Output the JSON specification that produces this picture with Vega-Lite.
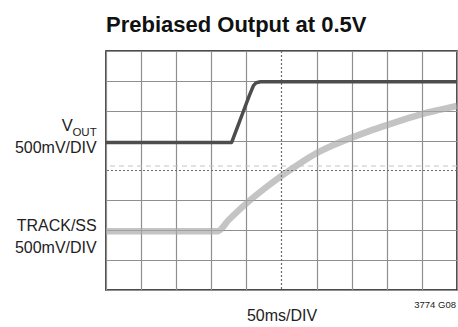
{
  "$schema": "https://vega.github.io/schema/vega-lite/v6.json",
  "width": 351,
  "height": 239,
  "autosize": {"type": "none"},
  "padding": {"left": 106, "top": 51, "right": 1, "bottom": 37},
  "background": "white",
  "title": {
    "text": "Prebiased Output at 0.5V",
    "anchor": "start",
    "frame": "group",
    "font": "Liberation Sans",
    "fontSize": 22,
    "fontWeight": "bold",
    "color": "#111",
    "baseline": "alphabetic",
    "offset": -4
  },
  "config": {
    "view": {"stroke": "#111", "strokeWidth": 1.5},
    "font": "Liberation Sans"
  },
  "resolve": {"axis": {"x": "independent", "y": "independent"}},
  "datasets": {
    "traces": [
      {"t": 0, "v": 4.94, "trace": "VOUT"},
      {"t": 3.58, "v": 4.94, "trace": "VOUT"},
      {"t": 3.75, "v": 5.47, "trace": "VOUT"},
      {"t": 3.92, "v": 6.0, "trace": "VOUT"},
      {"t": 4.08, "v": 6.5, "trace": "VOUT"},
      {"t": 4.2, "v": 6.84, "trace": "VOUT"},
      {"t": 4.28, "v": 6.94, "trace": "VOUT"},
      {"t": 4.4, "v": 6.97, "trace": "VOUT"},
      {"t": 10, "v": 6.97, "trace": "VOUT"},
      {"t": 0, "v": 1.97, "trace": "TRACK/SS"},
      {"t": 3.18, "v": 1.97, "trace": "TRACK/SS"},
      {"t": 3.5, "v": 2.35, "trace": "TRACK/SS"},
      {"t": 4, "v": 2.9, "trace": "TRACK/SS"},
      {"t": 4.5, "v": 3.38, "trace": "TRACK/SS"},
      {"t": 5, "v": 3.82, "trace": "TRACK/SS"},
      {"t": 5.5, "v": 4.22, "trace": "TRACK/SS"},
      {"t": 6, "v": 4.58, "trace": "TRACK/SS"},
      {"t": 6.5, "v": 4.86, "trace": "TRACK/SS"},
      {"t": 7, "v": 5.1, "trace": "TRACK/SS"},
      {"t": 7.5, "v": 5.32, "trace": "TRACK/SS"},
      {"t": 8, "v": 5.52, "trace": "TRACK/SS"},
      {"t": 8.5, "v": 5.71, "trace": "TRACK/SS"},
      {"t": 9, "v": 5.89, "trace": "TRACK/SS"},
      {"t": 9.5, "v": 6.03, "trace": "TRACK/SS"},
      {"t": 10, "v": 6.16, "trace": "TRACK/SS"}
    ],
    "one": [{}]
  },
  "layer": [
    {
      "data": {"name": "traces"},
      "transform": [{"filter": "datum.trace === 'TRACK/SS'"}],
      "mark": {"type": "line", "color": "#a8a8a8", "opacity": 0.68, "strokeWidth": 6.5, "interpolate": "monotone", "strokeCap": "butt"},
      "encoding": {
        "x": {
          "field": "t", "type": "quantitative",
          "scale": {"domain": [0, 10], "nice": false, "zero": false},
          "axis": {
            "values": [0, 1, 2, 3, 4, 6, 7, 8, 9, 10],
            "grid": true, "gridColor": "#8f8f8f", "gridWidth": 1.2,
            "labels": false, "ticks": false, "domain": false,
            "title": "50ms/DIV",
            "titleFont": "Liberation Sans",
            "titleFontSize": 16, "titleFontWeight": "normal", "titleColor": "#222",
            "titlePadding": 17
          }
        },
        "y": {
          "field": "v", "type": "quantitative",
          "scale": {"domain": [0, 8], "nice": false, "zero": false},
          "axis": {
            "values": [0, 1, 2, 3, 5, 6, 7, 8],
            "grid": true, "gridColor": "#8f8f8f", "gridWidth": 1.2,
            "labels": false, "ticks": false, "domain": false, "title": null
          }
        }
      }
    },
    {
      "data": {"name": "one"},
      "mark": {"type": "rule", "color": "#c4c4c4", "strokeWidth": 1, "strokeDash": [5, 4]},
      "encoding": {"y": {"datum": 4.15, "axis": null}}
    },
    {
      "data": {"name": "one"},
      "mark": {"type": "rule", "color": "#6a6a6a", "strokeWidth": 1.2, "strokeDash": [2, 2]},
      "encoding": {"y": {"datum": 4, "axis": null}}
    },
    {
      "data": {"name": "one"},
      "mark": {"type": "rule", "color": "#6a6a6a", "strokeWidth": 1.2, "strokeDash": [2, 2]},
      "encoding": {"x": {"datum": 5, "axis": null}}
    },
    {
      "data": {"name": "traces"},
      "transform": [{"filter": "datum.trace === 'VOUT'"}],
      "mark": {"type": "line", "color": "#4d4d4d", "strokeWidth": 3.5, "strokeJoin": "round"},
      "encoding": {
        "x": {"field": "t", "type": "quantitative", "axis": null},
        "y": {"field": "v", "type": "quantitative", "axis": null}
      }
    },
    {
      "data": {"name": "one"},
      "mark": {"type": "text", "text": "V", "align": "right", "baseline": "alphabetic", "fontSize": 16.5, "color": "#222", "clip": false},
      "encoding": {"x": {"datum": -0.95, "axis": null}, "y": {"datum": 5.32, "axis": null}}
    },
    {
      "data": {"name": "one"},
      "mark": {"type": "text", "text": "OUT", "align": "right", "baseline": "alphabetic", "fontSize": 11.5, "color": "#222", "clip": false},
      "encoding": {"x": {"datum": -0.265, "axis": null}, "y": {"datum": 5.165, "axis": null}}
    },
    {
      "data": {"name": "one"},
      "mark": {"type": "text", "text": "500mV/DIV", "align": "right", "baseline": "alphabetic", "fontSize": 16, "color": "#222", "clip": false},
      "encoding": {"x": {"datum": -0.265, "axis": null}, "y": {"datum": 4.576, "axis": null}}
    },
    {
      "data": {"name": "one"},
      "mark": {"type": "text", "text": "TRACK/SS", "align": "right", "baseline": "alphabetic", "fontSize": 16, "color": "#222", "clip": false},
      "encoding": {"x": {"datum": -0.265, "axis": null}, "y": {"datum": 1.985, "axis": null}}
    },
    {
      "data": {"name": "one"},
      "mark": {"type": "text", "text": "500mV/DIV", "align": "right", "baseline": "alphabetic", "fontSize": 16, "color": "#222", "clip": false},
      "encoding": {"x": {"datum": -0.265, "axis": null}, "y": {"datum": 1.228, "axis": null}}
    },
    {
      "data": {"name": "one"},
      "mark": {"type": "text", "text": "3774 G08", "align": "right", "baseline": "alphabetic", "fontSize": 9.5, "color": "#222", "clip": false},
      "encoding": {"x": {"datum": 9.97, "axis": null}, "y": {"datum": -0.61, "axis": null}}
    }
  ]
}
